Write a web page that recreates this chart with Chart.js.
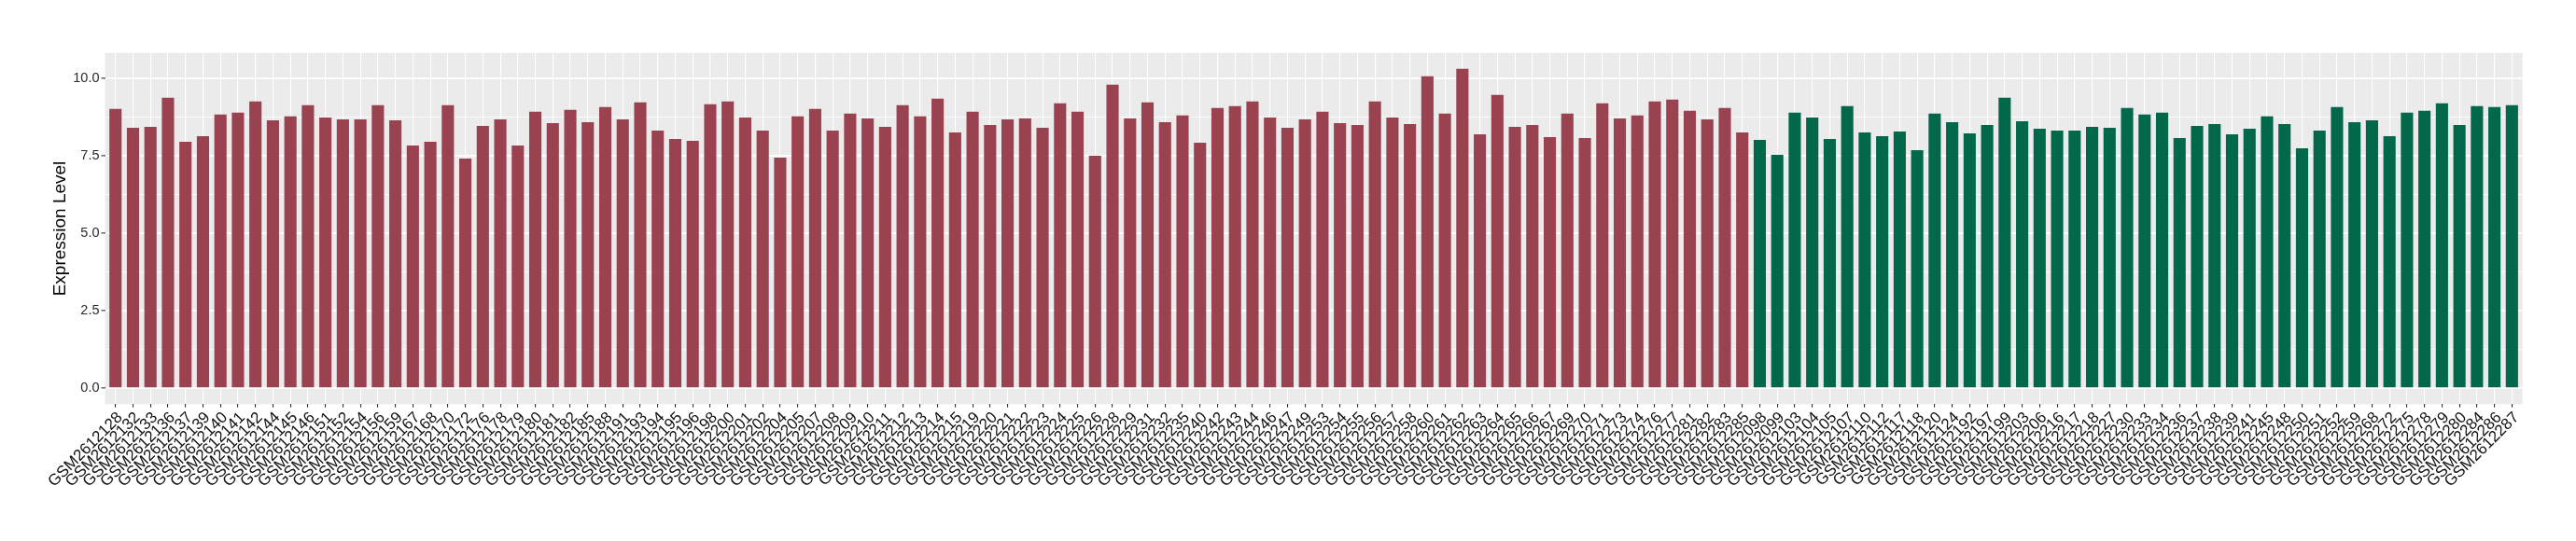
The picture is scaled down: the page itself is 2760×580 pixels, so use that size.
<!DOCTYPE html>
<html>
<head>
<meta charset="utf-8">
<script src="https://cdn.jsdelivr.net/npm/chart.js@4/dist/chart.umd.min.js"></script>
<style>
  html, body { margin: 0; padding: 0; background: #fff; }
  #wrap { width: 2760px; height: 580px; }
</style>
</head>
<body>
<div id="wrap"><canvas id="exprChart" width="2760" height="580"></canvas></div>
<script>
// samples, group 1 (red)
const redSamples = [
  "GSM2612128", "GSM2612132", "GSM2612133", "GSM2612136", "GSM2612137", "GSM2612139", "GSM2612140", "GSM2612141",
  "GSM2612142", "GSM2612144", "GSM2612145", "GSM2612146", "GSM2612151", "GSM2612152", "GSM2612154", "GSM2612156",
  "GSM2612159", "GSM2612167", "GSM2612168", "GSM2612170", "GSM2612172", "GSM2612176", "GSM2612178", "GSM2612179",
  "GSM2612180", "GSM2612181", "GSM2612182", "GSM2612185", "GSM2612188", "GSM2612191", "GSM2612193", "GSM2612194",
  "GSM2612195", "GSM2612196", "GSM2612198", "GSM2612200", "GSM2612201", "GSM2612202", "GSM2612204", "GSM2612205",
  "GSM2612207", "GSM2612208", "GSM2612209", "GSM2612210", "GSM2612211", "GSM2612212", "GSM2612213", "GSM2612214",
  "GSM2612215", "GSM2612219", "GSM2612220", "GSM2612221", "GSM2612222", "GSM2612223", "GSM2612224", "GSM2612225",
  "GSM2612226", "GSM2612228", "GSM2612229", "GSM2612231", "GSM2612232", "GSM2612235", "GSM2612240", "GSM2612242",
  "GSM2612243", "GSM2612244", "GSM2612246", "GSM2612247", "GSM2612249", "GSM2612253", "GSM2612254", "GSM2612255",
  "GSM2612256", "GSM2612257", "GSM2612258", "GSM2612260", "GSM2612261", "GSM2612262", "GSM2612263", "GSM2612264",
  "GSM2612265", "GSM2612266", "GSM2612267", "GSM2612269", "GSM2612270", "GSM2612271", "GSM2612273", "GSM2612274",
  "GSM2612276", "GSM2612277", "GSM2612281", "GSM2612282", "GSM2612283", "GSM2612285",
];
const redValues = [
  9.01, 8.40, 8.43, 9.37, 7.95, 8.13, 8.83, 8.89, 9.25, 8.64, 8.77, 9.13, 8.73, 8.67, 8.67, 9.13,
  8.64, 7.83, 7.95, 9.13, 7.41, 8.46, 8.67, 7.83, 8.92, 8.55, 8.98, 8.58, 9.07, 8.67, 9.22, 8.31,
  8.04, 7.98, 9.16, 9.25, 8.73, 8.31, 7.44, 8.77, 9.01, 8.31, 8.86, 8.70, 8.43, 9.13, 8.77, 9.34,
  8.25, 8.92, 8.49, 8.67, 8.70, 8.40, 9.19, 8.92, 7.50, 9.79, 8.70, 9.22, 8.58, 8.80, 7.92, 9.04,
  9.10, 9.25, 8.73, 8.40, 8.67, 8.92, 8.55, 8.49, 9.25, 8.73, 8.52, 10.06, 8.86, 10.30, 8.19, 9.46,
  8.43, 8.49, 8.10, 8.86, 8.07, 9.19, 8.70, 8.80, 9.25, 9.31, 8.95, 8.67, 9.04, 8.25,
];

// samples, group 2 (green)
const greenSamples = [
  "GSM2612098", "GSM2612099", "GSM2612103", "GSM2612104", "GSM2612105", "GSM2612107", "GSM2612110", "GSM2612112",
  "GSM2612117", "GSM2612118", "GSM2612120", "GSM2612124", "GSM2612192", "GSM2612197", "GSM2612199", "GSM2612203",
  "GSM2612206", "GSM2612216", "GSM2612217", "GSM2612218", "GSM2612227", "GSM2612230", "GSM2612233", "GSM2612234",
  "GSM2612236", "GSM2612237", "GSM2612238", "GSM2612239", "GSM2612241", "GSM2612245", "GSM2612248", "GSM2612250",
  "GSM2612251", "GSM2612252", "GSM2612259", "GSM2612268", "GSM2612272", "GSM2612275", "GSM2612278", "GSM2612279",
  "GSM2612280", "GSM2612284", "GSM2612286", "GSM2612287",
];
const greenValues = [
  8.01, 7.53, 8.89, 8.73, 8.04, 9.10, 8.25, 8.13, 8.28, 7.68, 8.86, 8.58, 8.22, 8.49, 9.37, 8.61,
  8.37, 8.31, 8.31, 8.43, 8.40, 9.04, 8.83, 8.89, 8.07, 8.46, 8.52, 8.19, 8.37, 8.77, 8.52, 7.74,
  8.31, 9.07, 8.58, 8.64, 8.13, 8.89, 8.95, 9.19, 8.49, 9.10, 9.07, 9.13,
];

const yTicks = [0, 1.25, 2.5, 3.75, 5, 6.25, 7.5, 8.75, 10];

const RED = "#9b4251";
const GREEN = "#02684a";
const FONT = '"Liberation Sans", Arial, sans-serif';

const samples = redSamples.concat(greenSamples);
const values = redValues.concat(greenValues);

// grey panel like ggplot
const panelBg = {
  id: "panelBg",
  beforeDraw(chart) {
    const { ctx, chartArea: a } = chart;
    ctx.save();
    ctx.fillStyle = "#ebebeb";
    ctx.fillRect(a.left, a.top, a.right - a.left, a.bottom - a.top);
    ctx.restore();
  },
};

new Chart(document.getElementById("exprChart"), {
  type: "bar",
  data: {
    datasets: [
      {
        data: values.map((v, i) => ({ x: i, y: v })),
        backgroundColor: values.map((v, i) => (i < redValues.length ? RED : GREEN)),
        borderWidth: 0,
        barPercentage: 0.7,
        categoryPercentage: 1,
      },
    ],
  },
  options: {
    responsive: false,
    animation: false,
    devicePixelRatio: 1,
    layout: { padding: { left: 0, right: 57.4, top: 56.7, bottom: 0 } },
    plugins: { legend: { display: false }, tooltip: { enabled: false } },
    scales: {
      x: {
        type: "linear",
        min: -0.6,
        max: samples.length - 1 + 0.6,
        offset: false,
        afterBuildTicks: (s) => {
          s.ticks = samples.map((_, i) => ({ value: i }));
        },
        afterFit: (s) => {
          s.height = 146.7;
        },
        grid: {
          offset: false,
          color: "#ffffff",
          lineWidth: 1.1,
          tickColor: "#333333",
          tickLength: 3.5,
          tickWidth: 1.1,
        },
        border: { display: false },
        ticks: {
          autoSkip: false,
          minRotation: 45,
          maxRotation: 45,
          padding: 1,
          labelOffset: 5,
          color: "#111111",
          font: { family: FONT, size: 17 },
          callback: (v, i) => samples[i],
        },
      },
      y: {
        min: -0.515,
        max: 10.815,
        afterBuildTicks: (s) => {
          s.ticks = yTicks.map((v) => ({ value: v }));
        },
        afterFit: (s) => {
          s.width = 112.5;
        },
        grid: {
          color: "#ffffff",
          lineWidth: (c) => (c.tick && c.tick.value % 2.5 === 0 ? 1.7 : 0.85),
          tickColor: (c) => (c.tick && c.tick.value % 2.5 === 0 ? "#333333" : "rgba(0,0,0,0)"),
          tickLength: 4,
          tickWidth: 1.1,
        },
        border: { display: false },
        ticks: {
          padding: 2,
          color: "#2b2b2b",
          font: { family: FONT, size: 14.5 },
          callback: (v) => (v % 2.5 === 0 ? v.toFixed(1) : ""),
        },
        title: {
          display: true,
          text: "Expression Level",
          color: "#000000",
          font: { family: FONT, size: 19 },
          padding: { top: 53, bottom: 0 },
        },
      },
    },
  },
  plugins: [panelBg],
});
</script>
</body>
</html>
